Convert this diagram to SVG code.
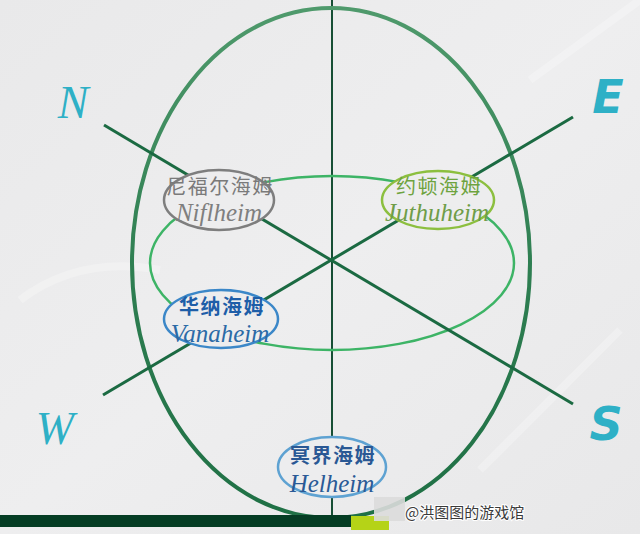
<svg xmlns="http://www.w3.org/2000/svg" width="640" height="534" viewBox="0 0 640 534">
<defs>
<linearGradient id="bg" x1="0" y1="0" x2="1" y2="1">
<stop offset="0" stop-color="#e9e9ea"/>
<stop offset="0.5" stop-color="#eeeeef"/>
<stop offset="1" stop-color="#e8e8e9"/>
</linearGradient>
<linearGradient id="big" x1="0" y1="0" x2="0" y2="1">
<stop offset="0" stop-color="#4f9a6c"/>
<stop offset="0.5" stop-color="#2f7f52"/>
<stop offset="1" stop-color="#1f7045"/>
</linearGradient>
<style>
.axis{stroke:#1b6a42;stroke-width:3;fill:none;stroke-linecap:butt}
.node{fill:#ededee;stroke-width:2.5}
.cn{font-family:"Noto Sans CJK SC","Noto Sans CJK JP",sans-serif;font-size:20px;text-anchor:middle;letter-spacing:1.5px}
.lat{font-family:"Liberation Serif","DejaVu Serif",serif;font-style:italic;font-size:25px;text-anchor:middle}
.dir{fill:#2eb0c6;font-size:46px}
</style>
</defs>
<rect width="640" height="534" fill="url(#bg)"/>
<g opacity="0.25" stroke="#ffffff" stroke-width="8" fill="none">
<path d="M20 300 Q80 255 160 270"/>
<path d="M480 470 L620 330"/>
<path d="M530 80 L640 0"/>
</g>
<g id="connectors">
<line x1="332" y1="0" x2="332" y2="518" stroke="#174f35" stroke-width="2"/>
<ellipse cx="332" cy="263" rx="182" ry="87" fill="none" stroke="#3db466" stroke-width="2.5"/>
<ellipse cx="331" cy="263" rx="199" ry="255" fill="none" stroke="url(#big)" stroke-width="4"/>
<line class="axis" x1="104" y1="125" x2="573" y2="404"/>
<line class="axis" x1="573" y1="117" x2="103" y2="395"/>
</g>
<g id="N"><text class="dir" x="73" y="118" text-anchor="middle" font-family="Liberation Serif,serif" font-style="italic">N</text></g>
<g id="E"><text class="dir" x="608" y="113" text-anchor="middle" font-family="DejaVu Sans,sans-serif" font-weight="bold" font-style="oblique" font-size="40">E</text></g>
<g id="W"><text class="dir" x="55" y="444" text-anchor="middle" font-family="Liberation Serif,serif" font-style="italic" font-size="50">W</text></g>
<g id="S"><text class="dir" x="606" y="440" text-anchor="middle" font-family="DejaVu Sans,sans-serif" font-weight="bold" font-style="oblique" font-size="40">S</text></g>
<g id="niflheim">
<ellipse class="node" cx="219" cy="200" rx="55" ry="30" stroke="#7e7e7e"/>
<text class="cn" x="220" y="194" fill="#7a7a7a">尼福尔海姆</text>
<text class="lat" x="219" y="221" fill="#7f7f7f">Niflheim</text>
</g>
<g id="juthuheim">
<ellipse class="node" cx="438" cy="200" rx="56" ry="29" stroke="#8cbf3f"/>
<text class="cn" x="439" y="194" fill="#6ea33f">约顿海姆</text>
<text class="lat" x="437" y="221" font-size="26" fill="#6f9d48">Juthuheim</text>
</g>
<g id="vanaheim">
<ellipse class="node" cx="221" cy="319" rx="57" ry="29" stroke="#3b87c8"/>
<text class="cn" x="222" y="314" fill="#1e5ea8" font-weight="bold">华纳海姆</text>
<text class="lat" x="220" y="342" font-size="26" fill="#2b6aa6">Vanaheim</text>
</g>
<g id="helheim">
<ellipse class="node" cx="332" cy="467" rx="54" ry="30" stroke="#5ea2d2"/>
<text class="cn" x="333" y="463" fill="#2a5894" font-weight="bold">冥界海姆</text>
<text class="lat" x="332" y="492" font-size="26" fill="#2a5a96">Helheim</text>
</g>
<g id="footer">
<rect x="0" y="515" width="351" height="12" fill="#053d24"/>
<rect x="351" y="516" width="38" height="14" fill="#b5d317"/>
<rect x="374" y="497" width="31" height="24" fill="#dcdcdc" opacity="0.9"/>
<text x="405" y="518" font-family="Noto Sans CJK SC,sans-serif" font-size="15" fill="#3a3a3a" stroke="#ffffff" stroke-width="2" paint-order="stroke">@洪图图的游戏馆</text>
</g>
</svg>
